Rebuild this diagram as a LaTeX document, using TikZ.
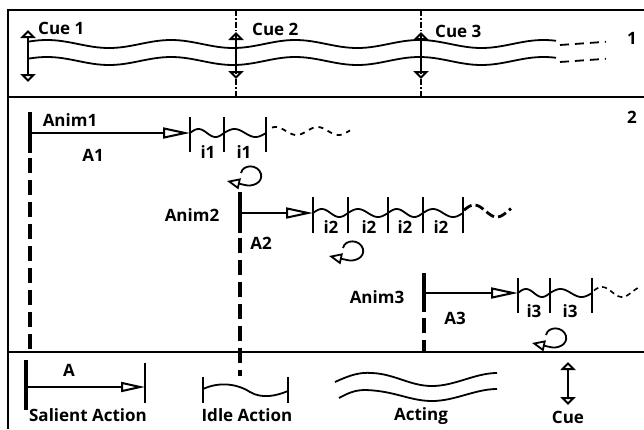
\documentclass[tikz,border=0pt]{standalone}
\usepackage{fontspec}
\setmainfont{Open Sans}
\usetikzlibrary{arrows.meta}
\begin{document}
\begin{tikzpicture}[x=1pt,y=-1pt,
  lbl/.style={font=\bfseries\fontsize{17}{19}\selectfont, inner sep=0pt},
  frame/.style={line width=2.6pt},
  startbar/.style={line width=3.5pt},
  dashbar/.style={line width=3.5pt, dash pattern=on 15pt off 7pt},
  shaft/.style={line width=2pt, -{Triangle[open,length=27pt,width=11pt]}},
  smallshaft/.style={line width=2pt, -{Triangle[open,length=24pt,width=10pt]}},
  tickline/.style={line width=1.4pt},
  wave/.style={line width=1.8pt},
  cuearrow/.style={line width=2pt, {Triangle[open,length=8pt,width=15pt]}-{Triangle[open,length=8pt,width=15pt]}},
  cueline/.style={line width=1.3pt, dash pattern=on 6pt off 2pt on 1.5pt off 2pt},
  loopico/.pic={\draw[line width=1.8pt, -{Triangle[open,length=13pt,width=11pt]}]
     (-9,-3) .. controls (-7,-12) and (8,-12) .. (11,-2) .. controls (13,7) and (2,11) .. (-5,9) -- (-23,5);},
]
\useasboundingbox (0,0) rectangle (644,429);

% frame and panel dividers
\draw[frame] (644,10) -- (8,10) -- (8,429);
\draw[frame] (8,97) -- (644,97);
\draw[frame] (8,352) -- (644,352);

% ---------- panel 1 ----------
\draw[wave] plot[domain=28:556, samples=140] (\x, {44+4*sin((\x-78)*2.9)});
\draw[wave] plot[domain=28:556, samples=140] (\x, {61+4*sin((\x-78)*2.9)});
\draw[wave, dash pattern=on 9pt off 6pt] plot[domain=560:606, samples=20] (\x, {45-0.07*(\x-560)});
\draw[wave, dash pattern=on 9pt off 6pt] plot[domain=560:606, samples=20] (\x, {62-0.07*(\x-560)});

\coordinate (q2t) at (236,10); \coordinate (q2b) at (236,97);
\coordinate (q3t) at (421,10); \coordinate (q3b) at (421,97);
\draw[cueline] (q2t) -- (q2b);
\draw[cueline] (q3t) -- (q3b);

\coordinate (c1t) at (28,30); \coordinate (c1b) at (28,82);
\coordinate (c2t) at (236,32); \coordinate (c2b) at (236,79);
\coordinate (c3t) at (421,32); \coordinate (c3b) at (421,79);
\draw[cuearrow] (c1t) -- (c1b);
\draw[cuearrow] (c2t) -- (c2b);
\draw[cuearrow] (c3t) -- (c3b);

\node[lbl, anchor=west] (cue1) at (38,28) {Cue 1};
\node[lbl, anchor=west] (cue2) at (252,29) {Cue 2};
\node[lbl, anchor=west] (cue3) at (435,31) {Cue 3};
\node[lbl] (p1) at (632,38) {1};

% ---------- panel 2 ----------
\node[lbl] (p2) at (632,117) {2};

% Anim1
\coordinate (s1t) at (30,112); \coordinate (s1m) at (30,153);
\coordinate (s1d) at (30,158); \coordinate (s1b) at (30,352);
\draw[startbar] (s1t) -- (s1m);
\draw[dashbar] (s1d) -- (s1b);
\coordinate (h1) at (30,133); \coordinate (e1) at (190,133);
\draw[shaft] (h1) -- (e1);
\foreach \t in {190,224,266} \draw[tickline] (\t,117) -- (\t,152);
\draw[wave] plot[domain=190:224, samples=30] (\x, {133-4*sin((\x-190)*(360/34))});
\draw[wave] plot[domain=224:266, samples=30] (\x, {133-4*sin((\x-224)*(360/42))});
\draw[wave, dash pattern=on 5pt off 5pt] plot[domain=272:350, samples=50] (\x, {131-4*sin((\x-265)*(360/42))});
\node[lbl] (anim1) at (70,120) {Anim1};
\node[lbl] (a1) at (93,155) {A1};
\node[lbl] (i1a) at (208,152) {i1};
\node[lbl] (i1b) at (244,152) {i1};
\pic at (250,176) {loopico};

% Anim2
\coordinate (s2t) at (240,192); \coordinate (s2m) at (240,233);
\coordinate (s2d) at (240,238); \coordinate (s2b) at (240,376);
\draw[startbar] (s2t) -- (s2m);
\draw[dashbar] (s2d) -- (s2b);
\coordinate (h2) at (240,213); \coordinate (e2) at (313,213);
\draw[shaft] (h2) -- (e2);
\foreach \t in {313,348,388,423,463} \draw[tickline] (\t,197) -- (\t,233);
\draw[wave] plot[domain=313:348, samples=30] (\x, {213-4*sin((\x-313)*(360/35))});
\draw[wave] plot[domain=348:388, samples=30] (\x, {213-4*sin((\x-348)*(360/40))});
\draw[wave] plot[domain=388:423, samples=30] (\x, {213-4*sin((\x-388)*(360/35))});
\draw[wave] plot[domain=423:463, samples=30] (\x, {213-4*sin((\x-423)*(360/40))});
\draw[line width=2.8pt, dash pattern=on 9pt off 4pt] plot[domain=464:511, samples=40] (\x, {211-6*sin((\x-463)*(360/45))});
\node[lbl] (anim2) at (192,215) {Anim2};
\node[lbl] (a2) at (261,243) {A2};
\node[lbl] (i2a) at (331,227) {i2};
\node[lbl] (i2b) at (369,227) {i2};
\node[lbl] (i2c) at (405,227) {i2};
\node[lbl] (i2d) at (441,227) {i2};
\pic at (352,251) {loopico};

% Anim3
\coordinate (s3t) at (424,273); \coordinate (s3m) at (424,312);
\coordinate (s3d) at (424,318); \coordinate (s3b) at (424,352);
\draw[startbar] (s3t) -- (s3m);
\draw[dashbar] (s3d) -- (s3b);
\coordinate (h3) at (424,293); \coordinate (e3) at (518,293);
\draw[shaft] (h3) -- (e3);
\foreach \t in {518,550,592} \draw[tickline] (\t,278) -- (\t,313);
\draw[wave] plot[domain=518:550, samples=30] (\x, {293-4*sin((\x-518)*(360/32))});
\draw[wave] plot[domain=550:592, samples=30] (\x, {293-4*sin((\x-550)*(360/42))});
\draw[line width=1.6pt, dash pattern=on 5pt off 4pt] plot[domain=594:640, samples=40] (\x, {292-5*sin((\x-592)*(360/40))});
\node[lbl] (anim3) at (377,297) {Anim3};
\node[lbl] (a3) at (455,318) {A3};
\node[lbl] (i3a) at (534,311) {i3};
\node[lbl] (i3b) at (570,311) {i3};
\pic at (555,338) {loopico};

% ---------- panel 3 (legend) ----------
\coordinate (ls1) at (26,360); \coordinate (ls2) at (26,410);
\draw[startbar] (ls1) -- (ls2);
\coordinate (lh) at (26,387); \coordinate (le) at (145,387);
\draw[smallshaft] (lh) -- (le);
\coordinate (lb1) at (145,363); \coordinate (lb2) at (145,403);
\draw[line width=2.6pt] (lb1) -- (lb2);
\node[lbl] (la) at (69,370) {A};
\node[lbl] (lsal) at (88,415) {Salient Action};

\coordinate (li1) at (203,377); \coordinate (li2) at (203,403);
\coordinate (li3) at (288,377); \coordinate (li4) at (288,403);
\draw[line width=2.4pt] (li1) -- (li2);
\draw[line width=2.4pt] (li3) -- (li4);
\draw[wave] (203,389) .. controls (218,382) and (236,383) .. (250,392)
   .. controls (262,399) and (276,396) .. (288,391);
\node[lbl] (lidle) at (247,415) {Idle Action};

\draw[wave] (335,382) .. controls (350,375) and (360,372) .. (372,373)
   .. controls (395,374) and (410,386) .. (432,386)
   .. controls (455,386) and (475,373) .. (497,373);
\draw[wave] (339,398) .. controls (350,392) and (356,390) .. (366,390)
   .. controls (395,391) and (410,401) .. (432,401)
   .. controls (455,401) and (475,389) .. (497,389);
\node[lbl] (lact) at (421,416) {Acting};

\coordinate (lct) at (568,362); \coordinate (lcb) at (568,405);
\draw[cuearrow] (lct) -- (lcb);
\node[lbl] (lcue) at (568,417) {Cue};
\end{tikzpicture}
\end{document}
